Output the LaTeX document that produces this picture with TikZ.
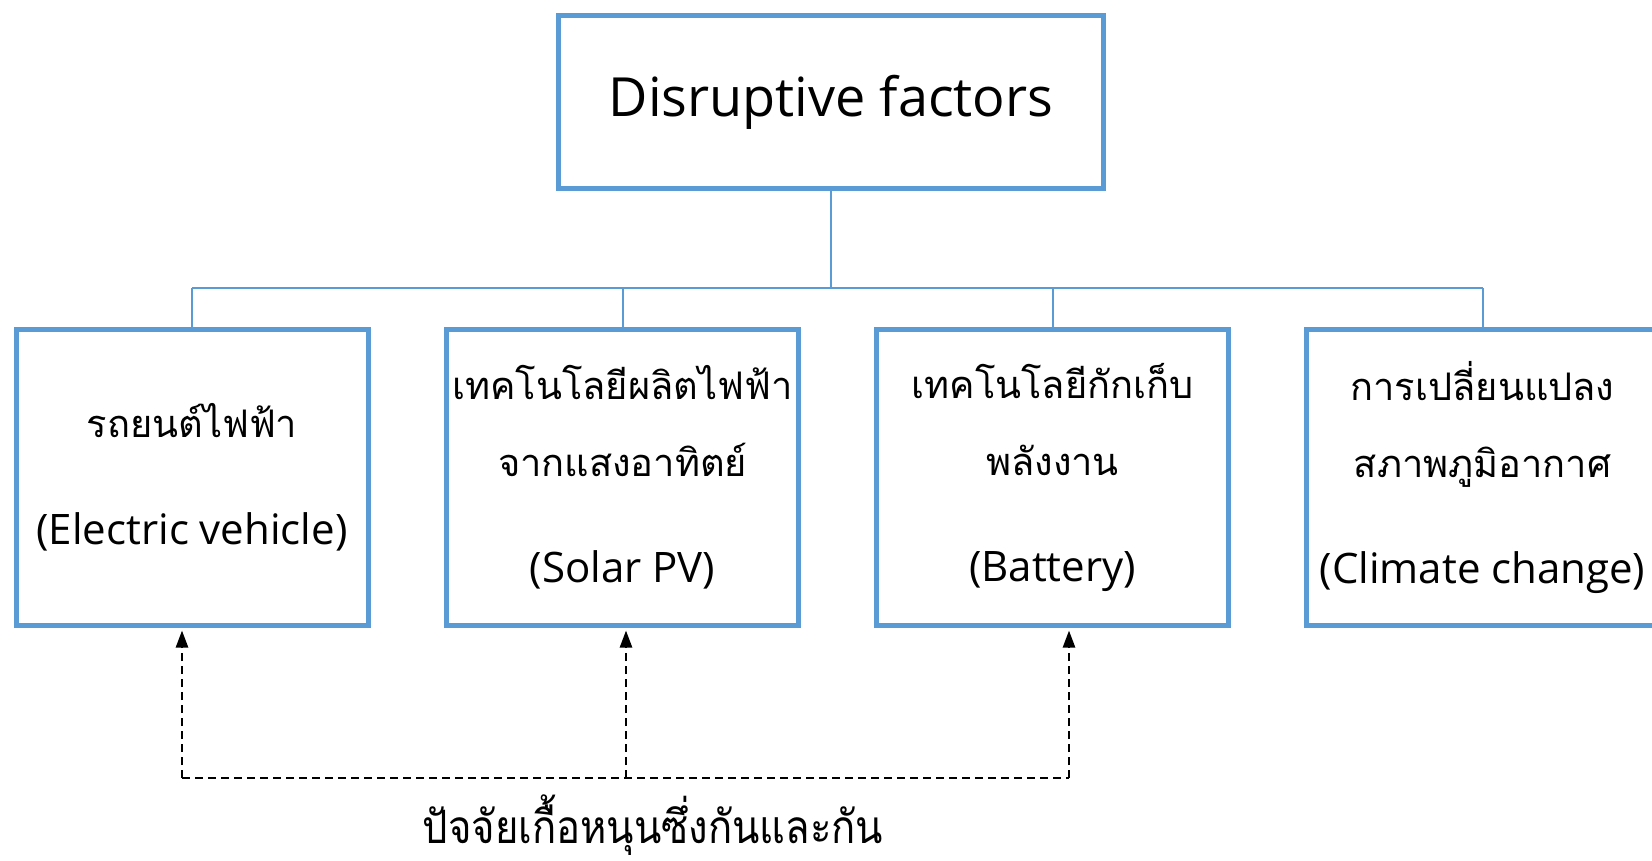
\documentclass[tikz,border=0pt]{standalone}
\usepackage{fontspec}
\usepackage{graphicx}
\setmainfont{Open Sans}
\newfontfamily\thaifont[Script=Thai]{Loma}
\usetikzlibrary{arrows.meta}
\definecolor{boxblue}{HTML}{5B9BD5}
\newcommand{\thl}[1]{{\thaifont\fontsize{38}{77}\selectfont #1}}
\begin{document}
\begin{tikzpicture}[x=1pt,y=-1pt,
  box/.style={draw=boxblue, line width=5pt, inner sep=0pt, align=center,
    minimum width=352pt, minimum height=296pt, font=\fontsize{42}{77}\selectfont},
  topbox/.style={draw=boxblue, line width=5pt, inner sep=0pt, align=center,
    minimum width=545pt, minimum height=173pt, font=\fontsize{54}{66}\selectfont},
  tree/.style={draw=boxblue, line width=2pt},
  dashline/.style={draw=black, line width=2.5pt, dash pattern=on 8pt off 5pt},
  dep/.style={dashline, -{Triangle[length=17pt,width=12pt]}, shorten >=2.5pt},
]
\useasboundingbox (0,0) rectangle (1652,860);
\fill[white] (0,0) rectangle (1652,860);

\node[topbox] (top) at (831,102) {Disruptive factors};

\node[box] (b1) at (192,477.5) {\thl{รถยนต์ไฟฟ้า}\\[30pt](Electric vehicle)};
\node[box] (b2) at (622.5,477.5) {\thl{เทคโนโลยีผลิตไฟฟ้า}\\\thl{จากแสงอาทิตย์}\\[29pt](Solar PV)};
\node[box] (b3) at (1052.5,477.5) {\thl{เทคโนโลยีกักเก็บ}\\\thl{พลังงาน}\\[29pt](Battery)};
\node[box] (b4) at (1482.5,477.5) {\thl{การเปลี่ยนแปลง}\\\thl{สภาพภูมิอากาศ}\\[29pt](Climate change)};

\coordinate (bus) at (831,288);
\draw[tree] (top.south) -- (bus);
\draw[tree] (b1.north |- bus) -- (b4.north |- bus);
\foreach \i in {1,2,3,4} \draw[tree] (b\i.north |- bus) -- (b\i.north);

\coordinate (c1) at (182,778);
\coordinate (c2) at (626,778);
\coordinate (c3) at (1069,778);
\draw[dashline] (c1) -- (c3);
\draw[dep] (c1) -- (c1 |- b1.south);
\draw[dep] (c2) -- (c2 |- b2.south);
\draw[dep] (c3) -- (c3 |- b3.south);

\node[anchor=base, inner sep=0pt] (lbl) at (653,843) {\thaifont\fontsize{46}{50}\selectfont\scalebox{0.87}[1]{ปัจจัยเกื้อหนุนซึ่งกันและกัน}};
\end{tikzpicture}
\end{document}
